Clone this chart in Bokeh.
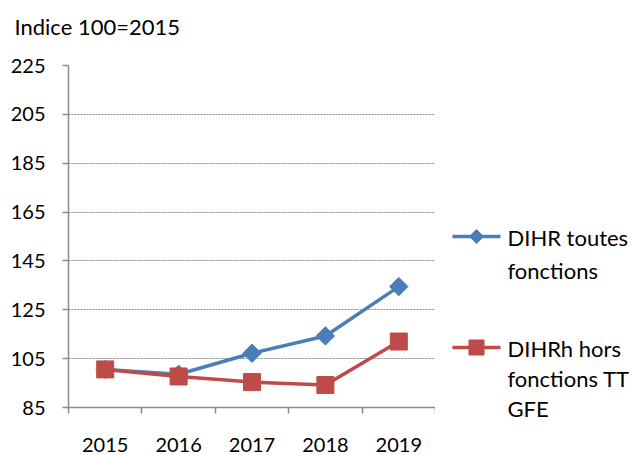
import numpy as np
from bokeh.plotting import figure
from bokeh.layouts import row, column
from bokeh.models import Range1d, FixedTicker
from bokeh.core.properties import value
from bokeh.embed import file_html
from bokeh.resources import INLINE

# ---- data ----
years = ["2015", "2016", "2017", "2018", "2019"]
dihr_toutes = [100.6, 98.6, 107.2, 114.3, 134.5]
dihrh_hors = [100.6, 97.7, 95.4, 94.2, 112.0]
y_ticks = [85, 105, 125, 145, 165, 185, 205, 225]
title_text = "Indice 100=2015"
legend_blue = ["DIHR toutes", "fonctions"]
legend_red = ["DIHRh hors", "fonctions TT", "GFE"]

BLUE = "#4A7EBB"
RED = "#BE4B48"
GRAY = "#8c8c8c"
FONT = "Lato"
W, H = 633, 455
HEAD = 40

xs = list(range(1, len(years) + 1))


def blank(fig):
    fig.axis.visible = False
    fig.grid.visible = False
    fig.outline_line_color = None
    fig.background_fill_color = "white"
    fig.border_fill_color = "white"
    fig.frame_align = False


# header with the unit title
hd = figure(width=W, height=HEAD, output_backend="svg", toolbar_location=None,
            x_range=Range1d(0, W), y_range=Range1d(HEAD, 0), min_border=0)
blank(hd)
hd.text([14], [25.5], text=[title_text], text_font=value(FONT), text_font_size="22px",
        text_color="black", text_baseline="middle", text_align="left")

# main chart
p = figure(width=435, height=H - HEAD, output_backend="svg", toolbar_location=None,
           x_range=Range1d(0.5, len(years) + 0.5),
           y_range=Range1d(y_ticks[0], y_ticks[-1]),
           min_border_left=68, min_border_right=0,
           min_border_top=65 - HEAD, min_border_bottom=48)
p.outline_line_color = None
p.background_fill_color = "white"
p.border_fill_color = "white"
p.frame_align = False

# x axis
p.xaxis.ticker = FixedTicker(ticks=xs, minor_ticks=[x - 0.5 for x in xs] + [xs[-1] + 0.5])
p.xaxis.major_label_overrides = {x: y for x, y in zip(xs, years)}
p.xaxis.major_tick_out = 0
p.xaxis.major_tick_in = 0
p.xaxis.minor_tick_out = 6
p.xaxis.minor_tick_in = 0
p.xaxis.minor_tick_line_color = GRAY
p.xaxis.minor_tick_line_width = 1.5
p.xaxis.axis_line_color = GRAY
p.xaxis.axis_line_width = 1.5
p.xaxis.major_label_text_font = FONT
p.xaxis.major_label_text_font_size = "20px"
p.xaxis.major_label_text_color = "black"
p.xaxis.major_label_standoff = 24

# y axis
p.yaxis.ticker = FixedTicker(ticks=y_ticks)
p.yaxis.major_tick_out = 6
p.yaxis.major_tick_in = 0
p.yaxis.major_tick_line_color = GRAY
p.yaxis.major_tick_line_width = 1.5
p.yaxis.minor_tick_line_color = None
p.yaxis.axis_line_color = GRAY
p.yaxis.axis_line_width = 1.5
p.yaxis.major_label_text_font = FONT
p.yaxis.major_label_text_font_size = "20px"
p.yaxis.major_label_text_color = "black"
p.yaxis.major_label_standoff = 17

p.xgrid.visible = False
p.ygrid.ticker = FixedTicker(ticks=y_ticks[1:])
p.ygrid.grid_line_color = GRAY
p.ygrid.grid_line_dash = "2 1"
p.ygrid.grid_line_width = 1

# series
p.line(xs, dihr_toutes, line_color=BLUE, line_width=3.5)
p.scatter(xs, dihr_toutes, marker="square", angle=np.pi / 4, size=13,
          fill_color=BLUE, line_color=BLUE)
p.line(xs, dihrh_hors, line_color=RED, line_width=3.5)
p.scatter(xs, dihrh_hors, marker="square", size=17,
          fill_color=RED, line_color=RED)

# legend panel (page-like coordinates, y downward)
lg = figure(width=W - 435, height=H - HEAD, output_backend="svg", toolbar_location=None,
            x_range=Range1d(0, W - 435), y_range=Range1d(H, HEAD), min_border=0)
blank(lg)

lg.line([17, 65], [236, 236], line_color=BLUE, line_width=3.5)
lg.scatter([41], [236], marker="square", angle=np.pi / 4, size=10,
           fill_color=BLUE, line_color=BLUE)
lg.text([72] * len(legend_blue), [237 + 33 * i for i in range(len(legend_blue))],
        text=legend_blue, text_font=value(FONT), text_font_size="22px",
        text_color="black", text_baseline="middle", text_align="left")

lg.line([17, 65], [347, 347], line_color=RED, line_width=3.5)
lg.scatter([41], [347], marker="square", size=15, fill_color=RED, line_color=RED)
lg.text([72] * len(legend_red), [348 + 30 * i for i in range(len(legend_red))],
        text=legend_red, text_font=value(FONT), text_font_size="22px",
        text_color="black", text_baseline="middle", text_align="left")

layout = column(hd, row(p, lg))
open("out.html", "w").write(file_html(layout, INLINE))
